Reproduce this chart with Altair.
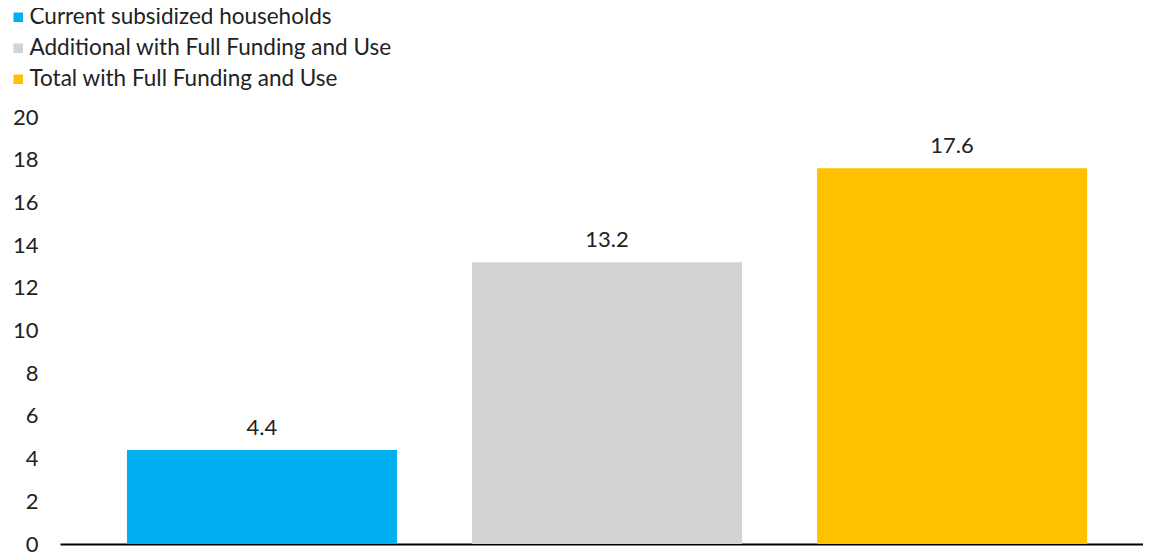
import altair as alt
import pandas as pd

categories = ["Current subsidized households", "Additional with Full Funding and Use", "Total with Full Funding and Use"]
values = [4.4, 13.2, 17.6]
colors = ["#00B0F0", "#D3D3D3", "#FFC000"]
y_ticks = [0, 2, 4, 6, 8, 10, 12, 14, 16, 18, 20]

df = pd.DataFrame({"category": categories, "value": values})

FONT = "Lato"

x = alt.X("category:N", sort=categories, title=None,
          scale=alt.Scale(paddingInner=0.2174, paddingOuter=0.178, align=0.545),
          axis=alt.Axis(labels=False, ticks=False, domain=True, domainColor="#000000",
                        domainWidth=2, grid=False))
y = alt.Y("value:Q", title=None,
          scale=alt.Scale(domain=[0, 20], nice=False),
          axis=alt.Axis(values=y_ticks, ticks=False, domain=False, grid=False,
                        labelFont=FONT, labelFontSize=22, labelColor="#222222",
                        labelPadding=22, labelAlign="right"))

bars = alt.Chart(df).mark_bar().encode(
    x=x, y=y,
    color=alt.Color("category:N", sort=categories, title=None,
                    scale=alt.Scale(domain=categories, range=colors),
                    legend=alt.Legend(orient="none", legendX=-53, legendY=-111,
                                      symbolType="square", symbolSize=90,
                                      symbolStrokeWidth=0, labelFont=FONT,
                                      labelFontSize=22.5, labelColor="#222222",
                                      labelOffset=0, rowPadding=8, padding=0,
                                      labelLimit=600))
)

labels = alt.Chart(df).mark_text(font=FONT, fontSize=22, color="#222222",
                                 baseline="alphabetic", dy=-15).encode(
    x=alt.X("category:N", sort=categories),
    y=alt.Y("value:Q"),
    text=alt.Text("value:Q", format=".1f")
)

chart = (bars + labels).properties(
    width=1083, height=427,
    autosize=alt.AutoSizeParams(type="none"),
    padding={"left": 52, "top": 109, "right": 0, "bottom": 10}
).configure_view(stroke=None)

chart.save("out.html", embed_options={"renderer": "svg", "actions": False})
